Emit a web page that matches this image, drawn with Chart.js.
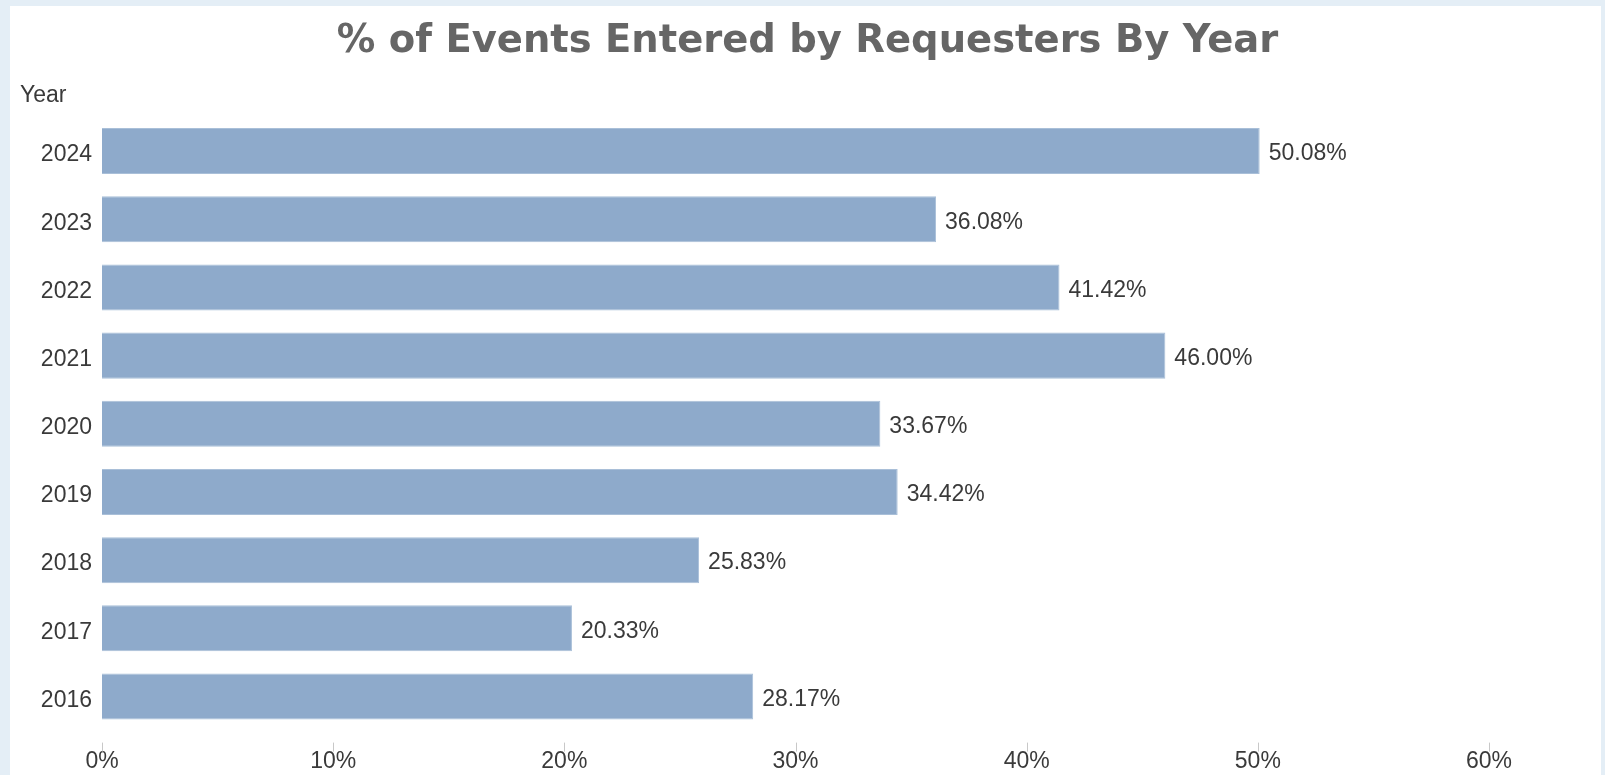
<!DOCTYPE html>
<html>
<head>
<meta charset="utf-8">
<script src="https://cdn.jsdelivr.net/npm/chart.js@4.4.1/dist/chart.umd.min.js"></script>
<style>
    html, body { margin: 0; padding: 0; background: #e4eef6; width: 1605px; height: 775px; overflow: hidden; }
    #panel { position: absolute; left: 10px; top: 6px; width: 1591px; height: 769px; background: #fff; }
</style>
</head>
<body>
<div id="panel"><canvas id="yearChart" width="1591" height="769"></canvas></div>
<script>
const years = ['2024', '2023', '2022', '2021', '2020', '2019', '2018', '2017', '2016'];
const requesterPct = [50.08, 36.08, 41.42, 46.00, 33.67, 34.42, 25.83, 20.33, 28.17];
const xTicks = [0, 10, 20, 30, 40, 50, 60];
const chartTitle = '% of Events Entered by Requesters By Year';

const labelFamily = '"Liberation Sans", Arial, sans-serif';
const labelFont = '23px ' + labelFamily;
const textColor = '#3a3a3a';

// value labels at the end of every bar
const barLabels = {
    id: 'barLabels',
    afterDatasetsDraw(chart) {
        const c = chart.ctx;
        const meta = chart.getDatasetMeta(0);
        c.save();
        c.font = labelFont;
        c.fillStyle = textColor;
        c.textAlign = 'left';
        c.textBaseline = 'middle';
        meta.data.forEach((bar, i) => {
            c.fillText(requesterPct[i].toFixed(2) + '%', bar.x + 9, bar.y + 3);
        });
        c.restore();
    }
};

// title centred on the whole panel, "Year" caption, small tick marks on the x axis
const extras = {
    id: 'extras',
    afterDraw(chart) {
        const c = chart.ctx;
        const x = chart.scales.x;
        c.save();
        c.font = 'bold 38.5px "DejaVu Sans", Verdana, sans-serif';
        c.fillStyle = '#666666';
        c.textAlign = 'center';
        c.textBaseline = 'middle';
        c.fillText(chartTitle, chart.width / 2 + 2, 36);

        c.font = labelFont;
        c.fillStyle = textColor;
        c.textAlign = 'left';
        c.fillText('Year', 10, 90);

        c.strokeStyle = '#c8c8c8';
        c.lineWidth = 1;
        xTicks.forEach(v => {
            const px = Math.round(x.getPixelForValue(v)) + 0.5;
            c.beginPath();
            c.moveTo(px, chart.chartArea.bottom + 12);
            c.lineTo(px, chart.chartArea.bottom + 21);
            c.stroke();
        });
        c.restore();
    }
};

new Chart(document.getElementById('yearChart').getContext('2d'), {
    type: 'bar',
    data: {
        labels: years,
        datasets: [{
            data: requesterPct,
            backgroundColor: '#8eaacb',
            borderColor: '#a9bfd8',
            borderWidth: 1,
            barPercentage: 0.75,
            categoryPercentage: 0.9
        }]
    },
    options: {
        indexAxis: 'y',
        responsive: false,
        animation: false,
        layout: { padding: { left: 0, right: 112, top: 111, bottom: 0 } },
        scales: {
            x: {
                min: 0,
                max: 60,
                grid: { display: false, drawTicks: false },
                border: { display: false },
                afterBuildTicks: axis => { axis.ticks = xTicks.map(v => ({ value: v })); },
                afterFit: axis => { axis.height = 44.4; },
                ticks: {
                    padding: 17,
                    color: textColor,
                    font: { family: labelFamily, size: 23 },
                    callback: v => v + '%'
                }
            },
            y: {
                grid: { display: false, drawTicks: false },
                border: { display: false },
                afterFit: axis => { axis.width = 92; },
                ticks: {
                    padding: 10,
                    labelOffset: 4,
                    color: textColor,
                    font: { family: labelFamily, size: 23 }
                }
            }
        },
        plugins: {
            legend: { display: false },
            tooltip: { enabled: false },
            title: { display: false }
        }
    },
    plugins: [barLabels, extras]
});
</script>
</body>
</html>
